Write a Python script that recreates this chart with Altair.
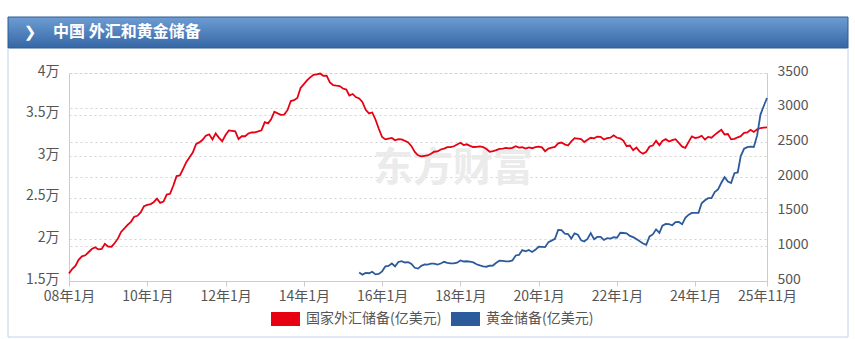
import altair as alt
import pandas as pd

# ---------------- data (亿美元) ----------------
fx_2008 = [15898, 16471, 16822, 17566, 17970, 18088, 18452, 18841, 19056, 18797, 18847, 19460]
fx_2009 = [19135, 19121, 19537, 20089, 20895, 21316, 21746, 22108, 22726, 22839, 23268, 23992]
fx_2010 = [24153, 24245, 24471, 24905, 24395, 24543, 25380, 25483, 26483, 27608, 27680, 28473]
fx_2011 = [29317, 29914, 30447, 31458, 31659, 31975, 32453, 32625, 32017, 32738, 32209, 31811]
fx_2012 = [32536, 33096, 33050, 32989, 32061, 32400, 32400, 32730, 32851, 32874, 32977, 33116]
fx_2013 = [34100, 33954, 34426, 35345, 35148, 34967, 35000, 35530, 36627, 36736, 37000, 38213]
fx_2014 = [38666, 39137, 39481, 39788, 39839, 39932, 39662, 39688, 38877, 38529, 38473, 38430]
fx_2015 = [38134, 38015, 37300, 37481, 37111, 36938, 36513, 35574, 35141, 35255, 34383, 33304]
fx_2016 = [32309, 32023, 32126, 32197, 31917, 32052, 32011, 31852, 31664, 31206, 30516, 30105]
fx_2017 = [29982, 30051, 30091, 30295, 30536, 30568, 30807, 30915, 31085, 31092, 31193, 31399]
fx_2018 = [31615, 31345, 31428, 31249, 31106, 31121, 31179, 31097, 30870, 30531, 30617, 30727]
fx_2019 = [30879, 30901, 30988, 30950, 31010, 31192, 31037, 31072, 30924, 31052, 30956, 31079]
fx_2020 = [31155, 31067, 30606, 30915, 31017, 31123, 31543, 31646, 31426, 31280, 31785, 32165]
fx_2021 = [32107, 32050, 31700, 31982, 32218, 32140, 32359, 32321, 32006, 32176, 32224, 32502]
fx_2022 = [32216, 32138, 31880, 31197, 31278, 30713, 31041, 30549, 30290, 30524, 31175, 31277]
fx_2023 = [31845, 31332, 31839, 32048, 31765, 31930, 32043, 31601, 31151, 31012, 31718, 32380]
fx_2024 = [32193, 32258, 32457, 32008, 32320, 32224, 32564, 32882, 33164, 32611, 32659, 32024]
fx_2025 = [32090, 32272, 32407, 32817, 32853, 33174, 32922, 33222, 33387, 33433, 33464]

gold_2015 = [624, 592, 617, 612, 634, 596, 602]  # from 2015-06
gold_2016 = [639, 712, 717, 753, 711, 775, 787, 767, 771, 746, 691, 679]
gold_2017 = [718, 739, 737, 750, 750, 736, 752, 777, 760, 753, 755, 765]
gold_2018 = [797, 781, 785, 779, 769, 741, 725, 711, 706, 720, 723, 762]
gold_2019 = [792, 791, 783, 782, 797, 868, 875, 945, 927, 948, 918, 950]
gold_2020 = [994, 993, 988, 1061, 1082, 1108, 1237, 1233, 1182, 1178, 1112, 1187]
gold_2021 = [1167, 1086, 1070, 1108, 1192, 1104, 1136, 1136, 1092, 1117, 1111, 1131]
gold_2022 = [1125, 1196, 1192, 1188, 1151, 1132, 1106, 1072, 1040, 1023, 1143, 1172]
gold_2023 = [1245, 1194, 1297, 1323, 1320, 1304, 1350, 1351, 1318, 1412, 1457, 1483]
gold_2024 = [1483, 1483, 1622, 1665, 1694, 1694, 1781, 1822, 1917, 1997, 1933, 1912]
gold_2025 = [2055, 2065, 2302, 2407, 2430, 2439, 2433, 2600, 2900, 3020, 3140]

fx_name = "国家外汇储备(亿美元)"
gold_name = "黄金储备(亿美元)"
title_text = "中国 外汇和黄金储备"
watermark_text = "东方财富"
x_tick_dates = [(2008, 1), (2010, 1), (2012, 1), (2014, 1), (2016, 1), (2018, 1),
                (2020, 1), (2022, 1), (2024, 1), (2025, 11)]
left_ticks = [15000, 20000, 25000, 30000, 35000, 40000]
right_ticks = [500, 1000, 1500, 2000, 2500, 3000, 3500]

fx_values = (fx_2008 + fx_2009 + fx_2010 + fx_2011 + fx_2012 + fx_2013 + fx_2014 + fx_2015 +
             fx_2016 + fx_2017 + fx_2018 + fx_2019 + fx_2020 + fx_2021 + fx_2022 + fx_2023 +
             fx_2024 + fx_2025)
gold_values = (gold_2015 + gold_2016 + gold_2017 + gold_2018 + gold_2019 + gold_2020 +
               gold_2021 + gold_2022 + gold_2023 + gold_2024 + gold_2025)

fx_df = pd.DataFrame({
    "date": pd.date_range("2008-01-01", periods=len(fx_values), freq="MS").strftime("%Y-%m-%d"),
    "value": fx_values,
})
gold_df = pd.DataFrame({
    "date": pd.date_range("2015-06-01", periods=len(gold_values), freq="MS").strftime("%Y-%m-%d"),
    "value": gold_values,
})

# ---------------- style ----------------
FONT = "Noto Sans CJK SC"
RED = "#e60012"
BLUE = "#2c5a9a"
LABEL_COLOR = "#555555"
AXIS_COLOR = "#cccccc"
GRID_COLOR = "#d3d3d3"
L, T = 69, 73          # plot origin inside the canvas
W, H = 698, 208        # plot area

def dt(y, m):
    return alt.DateTime(year=y, month=m, date=1, utc=True)

x_scale = alt.Scale(type="utc", domain=[dt(2008, 1), dt(2025, 11)], nice=False)
x_axis = alt.Axis(
    values=[dt(y, m) for y, m in x_tick_dates],
    labelExpr="utcFormat(datum.value, '%y年%-m月')",
    title=None, grid=False, domainColor=AXIS_COLOR, tickColor=AXIS_COLOR, tickSize=5,
    labelFont=FONT, labelFontSize=14, labelColor=LABEL_COLOR, labelPadding=3,
    labelFlush=False, labelOverlap=False, labelBound=False,
)

red = alt.Chart(fx_df).mark_line(color=RED, strokeWidth=1.8).encode(
    x=alt.X("date:T", scale=x_scale, axis=x_axis),
    y=alt.Y("value:Q", scale=alt.Scale(domain=[15000, 40000], nice=False, zero=False),
            axis=alt.Axis(orient="left", values=left_ticks, labelExpr="datum.value / 10000 + '万'",
                          title=None, grid=True, gridDash=[2, 3], gridColor=GRID_COLOR,
                          ticks=False, domainColor=AXIS_COLOR, labelPadding=10, labelOffset=-2,
                          labelFont=FONT, labelFontSize=14, labelColor=LABEL_COLOR,
                          labelOverlap=False)),
)

blue = alt.Chart(gold_df).mark_line(color=BLUE, strokeWidth=1.8).encode(
    x=alt.X("date:T", scale=x_scale, axis=x_axis),
    y=alt.Y("value:Q", scale=alt.Scale(domain=[500, 3500], nice=False, zero=False),
            axis=alt.Axis(orient="right", values=right_ticks, title=None, grid=True,
                          gridDash=[2, 3], gridColor=GRID_COLOR, ticks=False,
                          domainColor=AXIS_COLOR, labelPadding=10, labelOffset=-2, format="d",
                          labelFont=FONT, labelFontSize=14, labelColor=LABEL_COLOR,
                          labelOverlap=False)),
)

one = alt.Data(values=[{}])

def px(v, origin):
    return alt.value(v - origin)

watermark = alt.Chart(one).mark_text(
    text=watermark_text, font=FONT, fontSize=40, fontWeight="bold", color="#ebebeb",
    align="left", baseline="middle",
).encode(x=px(373, L), y=px(169, T))

header = alt.Chart(one).mark_rect(
    fill=alt.Gradient(gradient="linear", x1=0, y1=0, x2=0, y2=1,
                      stops=[alt.GradientStop(color="#6d9dd2", offset=0),
                             alt.GradientStop(color="#3667a6", offset=1)]),
    stroke="#2e5b93", strokeWidth=1,
).encode(x=px(8, L), x2=px(848, L), y=px(17, T), y2=px(48, T))

chevron = alt.Chart(one).mark_text(
    text="❯", font="DejaVu Sans", fontSize=15, color="white", align="center", baseline="middle",
).encode(x=px(30, L), y=px(32, T))

title = alt.Chart(one).mark_text(
    text=title_text, font=FONT, fontSize=16, fontWeight="bold", color="white",
    align="left", baseline="middle",
).encode(x=px(53, L), y=px(32, T))

border_l = alt.Chart(one).mark_rule(color="#bcd6ee", strokeWidth=1).encode(
    x=px(8, L), y=px(48, T), y2=px(337, T))
border_r = alt.Chart(one).mark_rule(color="#bcd6ee", strokeWidth=1).encode(
    x=px(848, L), y=px(48, T), y2=px(337, T))
border_b = alt.Chart(one).mark_rule(color="#bcd6ee", strokeWidth=1).encode(
    x=px(8, L), x2=px(848, L), y=px(337, T))

leg_red_box = alt.Chart(one).mark_rect(color=RED).encode(
    x=px(271, L), x2=px(300, L), y=px(312, T), y2=px(326, T))
leg_red_txt = alt.Chart(one).mark_text(
    text=fx_name, font=FONT, fontSize=14, color=LABEL_COLOR, align="left", baseline="middle",
).encode(x=px(306, L), y=px(319, T))
leg_blue_box = alt.Chart(one).mark_rect(color=BLUE).encode(
    x=px(451, L), x2=px(480, L), y=px(312, T), y2=px(326, T))
leg_blue_txt = alt.Chart(one).mark_text(
    text=gold_name, font=FONT, fontSize=14, color=LABEL_COLOR, align="left", baseline="middle",
).encode(x=px(486, L), y=px(319, T))

chart = alt.layer(
    watermark, red, blue, header, chevron, title, border_l, border_r, border_b,
    leg_red_box, leg_red_txt, leg_blue_box, leg_blue_txt,
).resolve_scale(y="independent").properties(
    width=W, height=H,
    padding={"left": L, "top": T, "right": 855 - L - W, "bottom": 339 - T - H},
    autosize=alt.AutoSizeParams(type="none"),
    background="white",
).configure_view(stroke=None)

chart.save("out.html", embed_options={"renderer": "svg", "actions": False})
